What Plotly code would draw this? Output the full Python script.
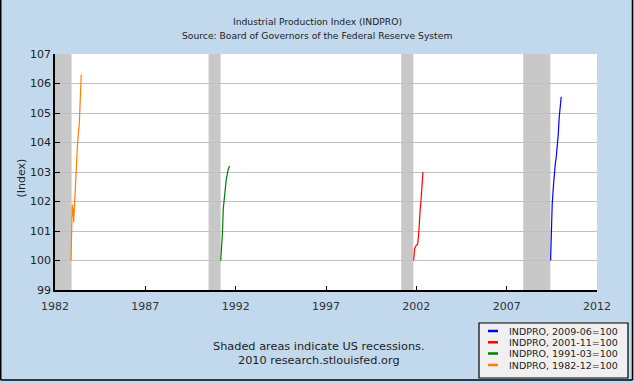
import plotly.graph_objects as go

# Series (x in decimal years, y index values)
x_1982 = [1982.885, 1982.924, 1982.957, 1982.996, 1983.013, 1983.035, 1983.068,
          1983.107, 1983.162, 1983.234, 1983.289, 1983.345, 1983.400, 1983.455]
y_1982 = [100, 100.96, 101.9, 101.5, 101.75, 101.3, 101.75,
          102.5, 103.1, 103.8, 104.3, 104.6, 105.5, 106.3]

x_1991 = [1991.170, 1991.225, 1991.270, 1991.314, 1991.391, 1991.480, 1991.590, 1991.668]
y_1991 = [100, 100.5, 100.95, 101.75, 102.2, 102.75, 103.1, 103.2]

x_2001 = [2001.851, 2001.906, 2001.978, 2002.072, 2002.128, 2002.161, 2002.216,
          2002.255, 2002.310, 2002.366]
y_2001 = [100, 100.4, 100.5, 100.55, 100.9, 101.45, 101.75, 102.0, 102.55, 103.0]

x_2009 = [2009.432, 2009.465, 2009.520, 2009.598, 2009.631, 2009.687, 2009.742,
          2009.798, 2009.853, 2009.908, 2009.964, 2010.019]
y_2009 = [100, 100.97, 101.9, 102.6, 102.95, 103.25, 103.5, 103.8,
          104.25, 104.85, 105.3, 105.55]

series_names = ["INDPRO, 1982-12=100", "INDPRO, 1991-03=100",
                "INDPRO, 2001-11=100", "INDPRO, 2009-06=100"]
series_colors = ["#ff7f00", "#008000", "#ff0000", "#0000ff"]

recessions = [(1981.5, 1982.917), (1990.5, 1991.167), (2001.167, 2001.833), (2007.917, 2009.417)]

x_ticks = [1982, 1987, 1992, 1997, 2002, 2007, 2012]
y_ticks = [99, 100, 101, 102, 103, 104, 105, 106, 107]

FONT = "DejaVu Sans"
W, H = 634, 384
L, R, T, B = 55, 37, 54, 94
PW, PH = W - L - R, H - T - B


def px(x):
    return (x - L) / PW


def py(y):
    return (H - B - y) / PH


fig = go.Figure()

xs = [x_1982, x_1991, x_2001, x_2009]
ys = [y_1982, y_1991, y_2001, y_2009]
for i, (xv, yv) in enumerate(zip(xs, ys)):
    fig.add_trace(go.Scatter(x=xv, y=yv, mode="lines", name=series_names[i],
                             line=dict(color=series_colors[i], width=1.2),
                             showlegend=False))

shapes = []
for a, b in recessions:
    shapes.append(dict(type="rect", xref="x", yref="paper", x0=max(a, 1982), x1=b,
                       y0=0, y1=1, fillcolor="#c8c8c8", line=dict(width=0), layer="below"))
# outer frame lines
for (x0, y0, x1, y1) in [(0.75, 0, 0.75, 380), (632.5, 0, 632.5, 380), (0.75, 380, 632.5, 380)]:
    shapes.append(dict(type="line", xref="paper", yref="paper", x0=px(x0), x1=px(x1),
                       y0=py(y0), y1=py(y1), line=dict(color="black", width=1.5)))

annotations = [
    dict(text="Industrial Production Index (INDPRO)", xref="paper", yref="paper",
         x=px(317), y=py(14), showarrow=False, font=dict(family=FONT, size=9.2, color="#222")),
    dict(text="Source: Board of Governors of the Federal Reserve System", xref="paper", yref="paper",
         x=px(317), y=py(28), showarrow=False, font=dict(family=FONT, size=9.2, color="#222")),
    dict(text="(Index)", xref="paper", yref="paper", x=px(12), y=py(178), textangle=-90,
         showarrow=False, font=dict(family=FONT, size=11, color="#222")),
    dict(text="Shaded areas indicate US recessions.", xref="paper", yref="paper",
         x=px(319), y=py(355), showarrow=False, font=dict(family=FONT, size=11.3, color="#222")),
    dict(text="2010 research.stlouisfed.org", xref="paper", yref="paper",
         x=px(319), y=py(369), showarrow=False, font=dict(family=FONT, size=11.3, color="#222")),
]

# legend box drawn by hand (compact rows as in the reference)
shapes.append(dict(type="rect", xref="paper", yref="paper", x0=px(479), x1=px(628),
                   y0=py(378), y1=py(323), fillcolor="#f0f0f0",
                   line=dict(color="black", width=1.2)))
legend_rows_y = [331, 342.3, 353.5, 365]
legend_order = [3, 2, 1, 0]
for row_y, idx in zip(legend_rows_y, legend_order):
    shapes.append(dict(type="line", xref="paper", yref="paper", x0=px(488), x1=px(498),
                       y0=py(row_y), y1=py(row_y),
                       line=dict(color=series_colors[idx], width=2.5)))
    annotations.append(dict(text=series_names[idx], xref="paper", yref="paper",
                            x=px(507), y=py(row_y), xanchor="left", yanchor="middle",
                            showarrow=False, font=dict(family=FONT, size=9.5, color="#222")))

fig.update_layout(
    width=W, height=H,
    margin=dict(l=L, r=R, t=T, b=B, autoexpand=False),
    paper_bgcolor="#c2d8ec", plot_bgcolor="white",
    showlegend=False,
    shapes=shapes, annotations=annotations,
    font=dict(family=FONT, size=10, color="#222"),
)
fig.update_xaxes(range=[1982, 2012], tickvals=x_ticks, ticktext=[str(t) for t in x_ticks],
                 showgrid=False, zeroline=False, showline=True, linecolor="black", linewidth=1.5,
                 ticks="inside", ticklen=4, tickcolor="black", ticklabelstandoff=5,
                 tickfont=dict(family=FONT, size=11, color="#333"))
fig.update_yaxes(range=[99, 107], tickvals=y_ticks, showgrid=True, gridcolor="#c0c0c0",
                 zeroline=False, showline=True, linecolor="black", linewidth=1.5,
                 ticks="inside", ticklen=5, tickcolor="black",
                 tickfont=dict(family=FONT, size=11, color="#222"))

fig.write_html("out.html", config={"displayModeBar": False},
               post_script="document.body.style.margin='0';document.body.style.overflow='hidden';")
